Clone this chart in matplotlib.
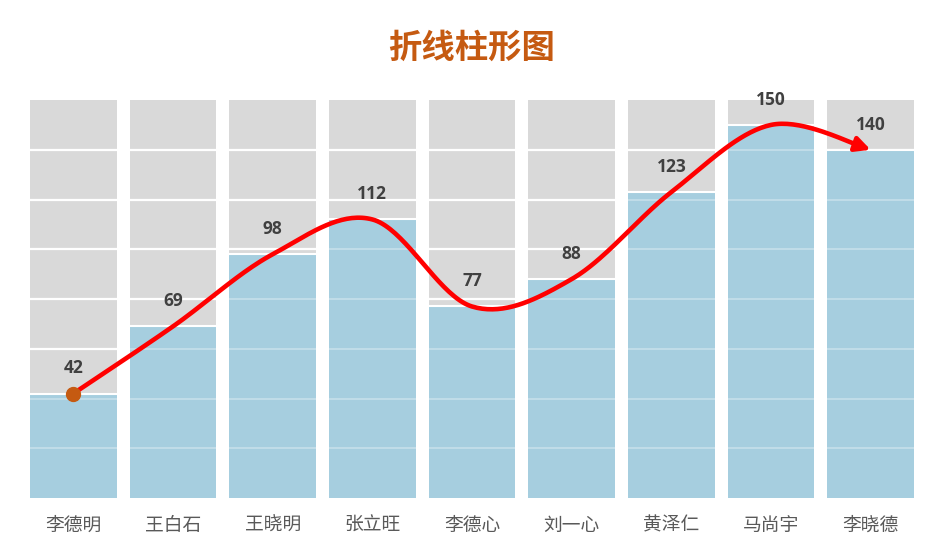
import matplotlib
matplotlib.use("Agg")
import matplotlib.pyplot as plt
import numpy as np

plt.rcParams['font.family'] = ['Noto Sans CJK SC', 'DejaVu Sans']

# data
names = ["李德明", "王白石", "王晓明", "张立旺", "李德心", "刘一心", "黄泽仁", "马尚宇", "李晓德"]
values = [42, 69, 98, 112, 77, 88, 123, 150, 140]
y_max = 160
grid_step = 20

title = "折线柱形图"


def smooth(xs, ys, n=40):
    # catmull-rom style bezier, like a spreadsheet "smoothed line"
    pts = np.column_stack([xs, ys]).astype(float)
    ext = np.vstack([pts[0], pts, pts[-1]])
    out = []
    t = np.linspace(0, 1, n)[:, None]
    for i in range(1, len(ext) - 2):
        p0, p1, p2, p3 = ext[i - 1], ext[i], ext[i + 1], ext[i + 2]
        c1 = p1 + (p2 - p0) / 6.0
        c2 = p2 - (p3 - p1) / 6.0
        seg = ((1 - t) ** 3) * p1 + 3 * ((1 - t) ** 2) * t * c1 + 3 * (1 - t) * t ** 2 * c2 + t ** 3 * p2
        out.append(seg if i == 1 else seg[1:])
    return np.vstack(out)


fig = plt.figure(figsize=(9.44, 5.5), dpi=100)
ax = fig.add_axes([0.0249, 0.0945, 0.9502, 0.7236])

x = np.arange(len(names))
w = 0.87

ax.bar(x, [y_max] * len(x), width=w, color="#D9D9D9", zorder=1)
for gy in range(grid_step, y_max, grid_step):
    ax.axhline(gy, color="white", lw=1.6, zorder=2)
ax.bar(x, values, width=w, color="#A6CEDF", zorder=3)
for gy in range(grid_step, y_max, grid_step):
    ax.axhline(gy, color="white", lw=1.4, alpha=0.3, zorder=4)
# white cap on top of each blue bar
ax.hlines(values, x - w / 2, x + w / 2, color="white", lw=1.5, zorder=4)

for xi, v in zip(x, values):
    ax.text(xi, v + 6.5, str(v), ha="center", va="bottom", fontsize=12.5,
            fontweight="bold", color="#404040", family="Open Sans", zorder=6)

curve = smooth(x, values)
ax.plot(curve[:-7, 0], curve[:-7, 1], color="red", lw=3.3, solid_capstyle="round", zorder=7)
ax.annotate("", xy=(curve[-1, 0], curve[-1, 1]), xytext=(curve[-9, 0], curve[-9, 1]),
            arrowprops=dict(arrowstyle="-|>", color="red", lw=3.3, mutation_scale=22,
                            shrinkA=0, shrinkB=0), zorder=8)
ax.plot(x[0], values[0], "o", color="#C55A11", ms=10, zorder=9)

ax.set_xlim(-0.5, len(x) - 0.5)
ax.set_ylim(0, y_max)
ax.set_xticks(x)
ax.set_xticklabels(names, fontsize=13.5, color="#595959")
ax.tick_params(axis="x", length=0, pad=12)
ax.set_yticks([])
for s in ax.spines.values():
    s.set_visible(False)

fig.text(0.5, 0.912, title, ha="center", va="center", fontsize=24,
         fontweight="bold", color="#C55A11")

fig.savefig("out.png", dpi=100)
